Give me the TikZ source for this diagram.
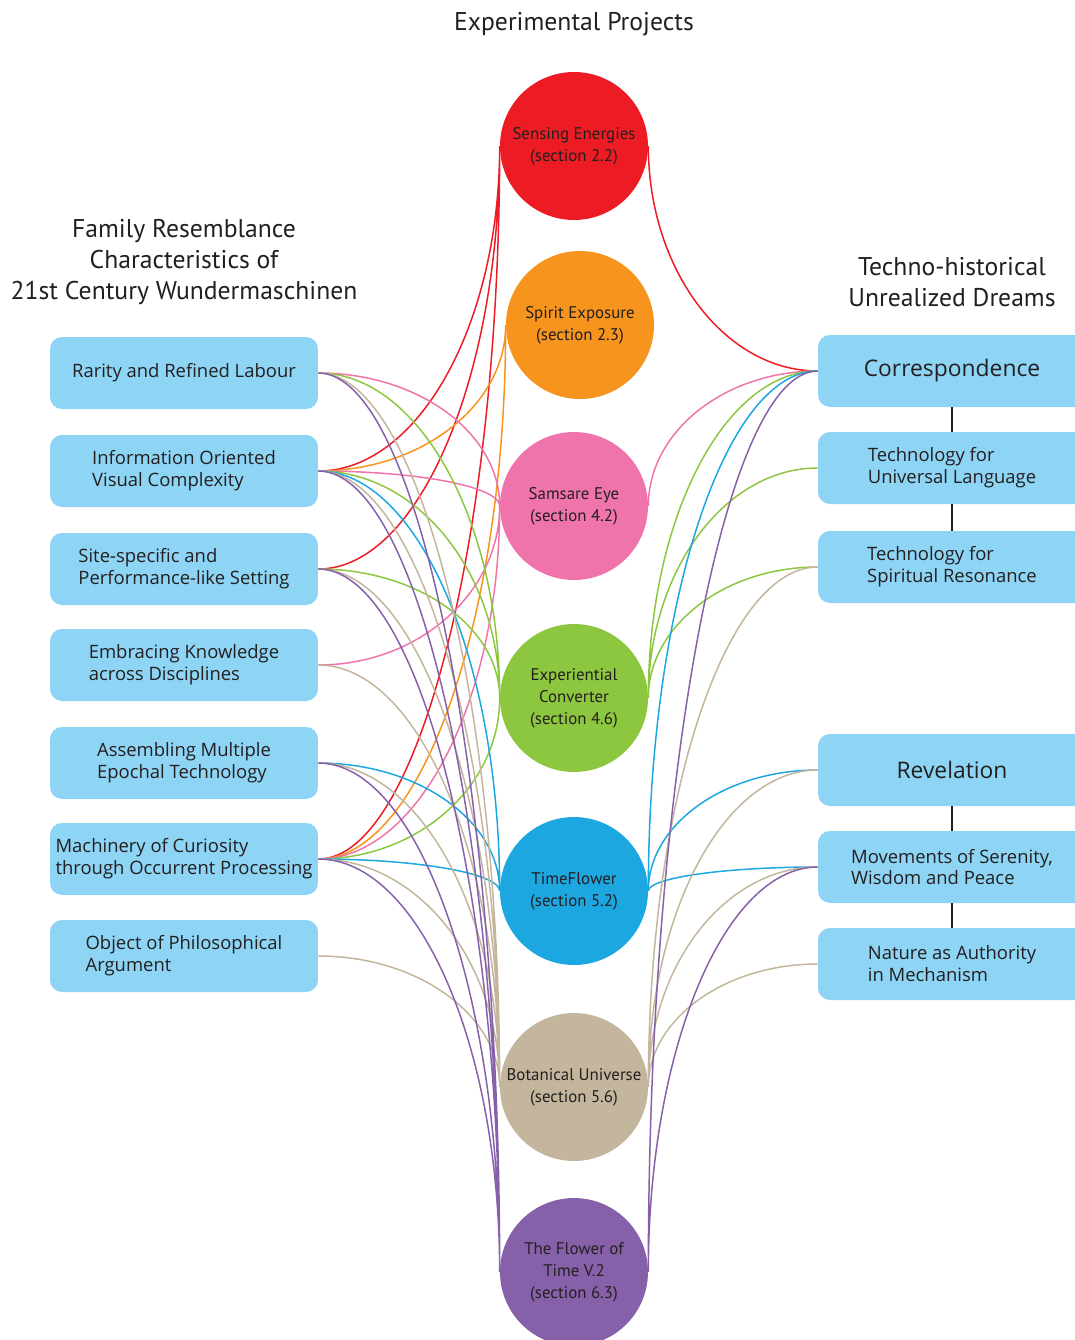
\documentclass[tikz,border=0pt]{standalone}
\usepackage{fontspec}
\usetikzlibrary{calc,backgrounds}
\newfontfamily\boxfont{Open Sans}
\newfontfamily\ptfont{PT Sans}
\definecolor{cRed}{HTML}{ED1C24}
\definecolor{cOrange}{HTML}{F7941D}
\definecolor{cPink}{HTML}{F074AC}
\definecolor{cGreen}{HTML}{8DC63F}
\definecolor{cBlue}{HTML}{1CA7E0}
\definecolor{cTan}{HTML}{C4B69C}
\definecolor{cPurple}{HTML}{8661AA}
\definecolor{cBox}{HTML}{8ED4F5}
\definecolor{cText}{HTML}{231F20}
\tikzset{
  trait/.style={fill=cBox, rounded corners=0.24cm, minimum width=5.36cm, minimum height=1.44cm,
    inner sep=0pt, align=left, text=cText, font=\boxfont\fontsize{10.5}{12.5}\selectfont},
  dream/.style={trait, font=\boxfont\fontsize{13}{15}\selectfont},
  project/.style={circle, minimum size=2.96cm, inner sep=0pt, align=center, text=cText,
    font=\ptfont\fontsize{9.6}{12.5}\selectfont},
  heading/.style={align=center, text=cText, font=\ptfont\fontsize{14.6}{17.6}\selectfont},
  link/.style={line width=0.85pt},
  % horizontal out of a trait, vertical into a project
  lcurve/.style={to path={.. controls ($(\tikztostart)!0.55!(\tikztostart-|\tikztotarget)$)
    and ($(\tikztotarget)!0.55!(\tikztostart-|\tikztotarget)$) .. (\tikztotarget)}},
  % vertical out of a project, horizontal into a dream
  rcurve/.style={to path={.. controls ($(\tikztostart)!0.55!(\tikztostart|-\tikztotarget)$)
    and ($(\tikztotarget)!0.55!(\tikztostart|-\tikztotarget)$) .. (\tikztotarget)}}
}
\begin{document}
\begin{tikzpicture}[x=0.02cm,y=-0.02cm]
  \useasboundingbox (0,0) rectangle (1075,1340);
  % Tiêu đề
  \node[heading] (tProj) at (574,24) {Experimental Projects};
  \node[heading] (tFam) at (184,262) {Family Resemblance\\Characteristics of\\21st Century Wundermaschinen};
  \node[heading] (tDream) at (952,282) {Techno-historical\\Unrealized Dreams};
  % Cột trái
  \node[trait] (L1) at (184,373) {Rarity and Refined Labour};
  \node[trait] (L2) at (184,471) {Information Oriented\\Visual Complexity};
  \node[trait] (L3) at (184,569) {Site-specific and\\Performance-like Setting};
  \node[trait] (L4) at (184,665) {Embracing Knowledge\\across Disciplines};
  \node[trait] (L5) at (184,763) {Assembling Multiple\\Epochal Technology};
  \node[trait] (L6) at (184,859) {Machinery of Curiosity\\through Occurrent Processing};
  \node[trait] (L7) at (184,956) {Object of Philosophical\\Argument};
  % Cột giữa
  \node[project,fill=cRed] (C1) at (574,146) {Sensing Energies\\(section 2.2)};
  \node[project,fill=cOrange] (C2) at (580,325) {Spirit Exposure\\(section 2.3)};
  \node[project,fill=cPink] (C3) at (574,506) {Samsare Eye\\(section 4.2)};
  \node[project,fill=cGreen] (C4) at (574,698) {Experiential\\Converter\\(section 4.6)};
  \node[project,fill=cBlue] (C5) at (574,891) {TimeFlower\\(section 5.2)};
  \node[project,fill=cTan] (C6) at (574,1087) {Botanical Universe\\(section 5.6)};
  \node[project,fill=cPurple] (C7) at (574,1272) {The Flower of\\Time V.2\\(section 6.3)};
  % Cột phải
  \node[dream] (R1) at (952,371) {Correspondence};
  \node[trait] (R2) at (952,468) {Technology for\\Universal Language};
  \node[trait] (R3) at (952,567) {Technology for\\Spiritual Resonance};
  \node[dream] (R4) at (952,770) {Revelation};
  \node[trait] (R5) at (952,867) {Movements of Serenity,\\Wisdom and Peace};
  \node[trait] (R6) at (952,964) {Nature as Authority\\in Mechanism};
  \draw[link,cText] (R1) -- (R2) (R2) -- (R3);
  \draw[link,cText] (R4) -- (R5) (R5) -- (R6);
  \begin{scope}[on background layer]
    % trái -> giữa
    \draw[link,cRed] (L2.east) to[lcurve] (C1.west) (L3.east) to[lcurve] (C1.west)
      (L6.east) to[lcurve] (C1.west);
    \draw[link,cOrange] (L2.east) to[lcurve] (C2.west) (L6.east) to[lcurve] (C2.west);
    \draw[link,cPink] (L1.east) to[lcurve] (C3.west) (L2.east) to[lcurve] (C3.west)
      (L4.east) to[lcurve] (C3.west) (L6.east) to[lcurve] (C3.west);
    \draw[link,cGreen] (L1.east) to[lcurve] (C4.west) (L2.east) to[lcurve] (C4.west)
      (L3.east) to[lcurve] (C4.west) (L6.east) to[lcurve] (C4.west);
    \draw[link,cBlue] (L2.east) to[lcurve] (C5.west) (L5.east) to[lcurve] (C5.west)
      (L6.east) to[lcurve] (C5.west);
    \draw[link,cTan] (L1.east) to[lcurve] (C6.west) (L2.east) to[lcurve] (C6.west)
      (L3.east) to[lcurve] (C6.west) (L4.east) to[lcurve] (C6.west)
      (L5.east) to[lcurve] (C6.west) (L6.east) to[lcurve] (C6.west)
      (L7.east) to[lcurve] (C6.west);
    \draw[link,cPurple] (L1.east) to[lcurve] (C7.west) (L2.east) to[lcurve] (C7.west)
      (L3.east) to[lcurve] (C7.west) (L5.east) to[lcurve] (C7.west)
      (L6.east) to[lcurve] (C7.west);
    % giữa -> phải
    \draw[link,cRed] (C1.east) to[rcurve] (R1.west);
    \draw[link,cPink] (C3.east) to[rcurve] (R1.west);
    \draw[link,cGreen] (C4.east) to[rcurve] (R1.west) (C4.east) to[rcurve] (R2.west)
      (C4.east) to[rcurve] (R3.west);
    \draw[link,cBlue] (C5.east) to[rcurve] (R1.west) (C5.east) to[rcurve] (R4.west)
      (C5.east) to[rcurve] (R5.west);
    \draw[link,cTan] (C6.east) to[rcurve] (R3.west) (C6.east) to[rcurve] (R4.west)
      (C6.east) to[rcurve] (R5.west) (C6.east) to[rcurve] (R6.west);
    \draw[link,cPurple] (C7.east) to[rcurve] (R1.west) (C7.east) to[rcurve] (R5.west);
  \end{scope}
\end{tikzpicture}
\end{document}
